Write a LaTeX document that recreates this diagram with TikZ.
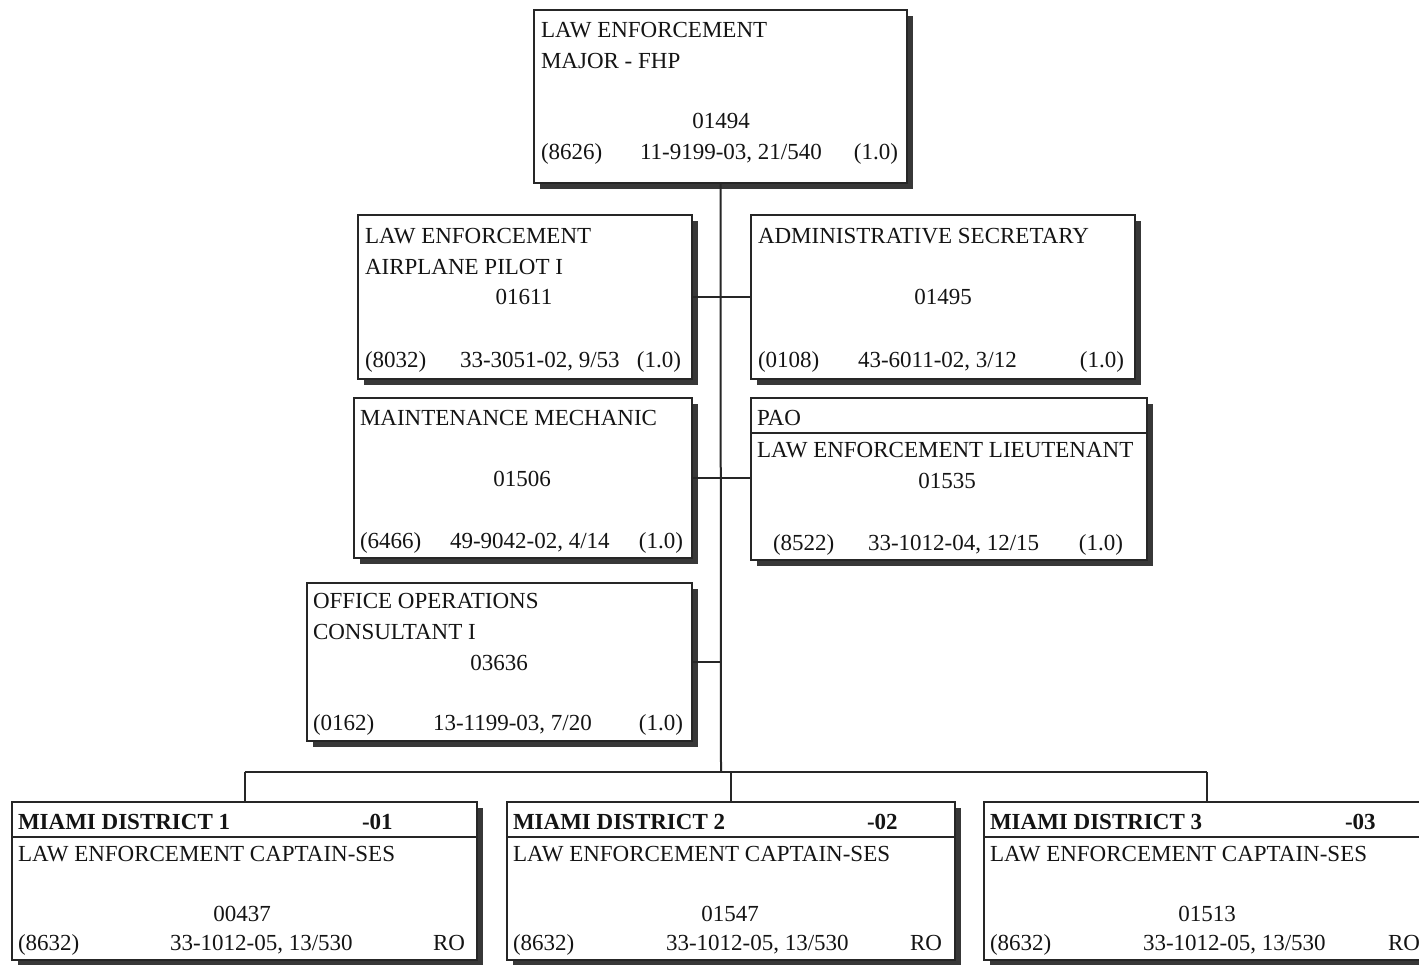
\documentclass[tikz,border=0pt]{standalone}
\usepackage{fontspec}
\setmainfont{Liberation Serif}
\usetikzlibrary{shadows}
\begin{document}
\begin{tikzpicture}[x=1pt,y=-1pt,
  box/.style={draw=black!85, line width=2.2pt, fill=white, rectangle, inner sep=0pt, outer sep=0pt,
    anchor=north west, drop shadow={shadow xshift=5.5pt, shadow yshift=-5.5pt, fill=black!78, opacity=1}},
  link/.style={draw=black!85, line width=2pt},
  rule/.style={draw=black!85, line width=1.8pt},
  txt/.style={inner sep=0pt, outer sep=0pt, font=\fontsize{23}{27}\selectfont, text=black!92},
  lt/.style={txt, anchor=base west},
  rt/.style={txt, anchor=base east},
  ct/.style={txt, anchor=base},
  hd/.style={txt, anchor=base west, font=\fontsize{23}{27}\selectfont\bfseries}]
\useasboundingbox (0,0) rectangle (1419,964);
\fill[white] (0,0) rectangle (1419,964);
\clip (0,0) rectangle (1419,964);

% position boxes
\node[box, minimum width=373pt, minimum height=173pt] (top)    at (534,10)  {};
\node[box, minimum width=334pt, minimum height=164pt] (pilot)  at (358,215) {};
\node[box, minimum width=384pt, minimum height=164pt] (admin)  at (751,215) {};
\node[box, minimum width=338pt, minimum height=160pt] (mech)   at (354,398) {};
\node[box, minimum width=396pt, minimum height=162pt] (pao)    at (751,398) {};
\node[box, minimum width=385pt, minimum height=158pt] (office) at (307,583) {};
\node[box, minimum width=465pt, minimum height=158pt] (dA)     at (12,802)  {};
\node[box, minimum width=448pt, minimum height=158pt] (dB)     at (507,802) {};
\node[box, minimum width=446pt, minimum height=158pt] (dC)     at (984,802) {};

% header rules
\draw[rule] (pao.north west) ++(0,35) -- ++(396,0);
\draw[rule] (dA.north west) ++(0,35) -- ++(465,0);
\draw[rule] (dB.north west) ++(0,35) -- ++(448,0);
\draw[rule] (dC.north west) ++(0,35) -- ++(446,0);

% connectors
\coordinate (bus) at (721,772);
\draw[link] (top.south) -- (bus);
\draw[link] (dA.north |- bus) -- (dC.north |- bus);
\draw[link] (dA.north |- bus) -- (dA.north);
\draw[link] (dB.north |- bus) -- (dB.north);
\draw[link] (dC.north |- bus) -- (dC.north);
\draw[link] (pilot.east) -- (admin.west);
\draw[link] (mech.east) -- (mech.east -| pao.west);
\draw[link] (office.east) -- (office.east -| top.south);

% top box
\node[lt] (t1) at (541,37) {LAW ENFORCEMENT};
\node[lt] (t2) at (541,68) {MAJOR - FHP};
\node[ct] (t3) at (721,128) {01494};
\node[lt] (t4) at (541,159) {(8626)};
\node[lt] (t5) at (640,159) {11-9199-03, 21/540};
\node[rt] (t6) at (898,159) {(1.0)};

% airplane pilot
\node[lt] (p1) at (365,243) {LAW ENFORCEMENT};
\node[lt] (p2) at (365,274) {AIRPLANE PILOT I};
\node[ct] (p3) at (524,304) {01611};
\node[lt] (p4) at (365,367) {(8032)};
\node[lt] (p5) at (460,367) {33-3051-02, 9/53};
\node[rt] (p6) at (681,367) {(1.0)};

% administrative secretary
\node[lt] (a1) at (758,243) {ADMINISTRATIVE SECRETARY};
\node[ct] (a2) at (943,304) {01495};
\node[lt] (a3) at (758,367) {(0108)};
\node[lt] (a4) at (858,367) {43-6011-02, 3/12};
\node[rt] (a5) at (1124,367) {(1.0)};

% maintenance mechanic
\node[lt] (m1) at (360,425) {MAINTENANCE MECHANIC};
\node[ct] (m2) at (522,486) {01506};
\node[lt] (m3) at (360,548) {(6466)};
\node[lt] (m4) at (450,548) {49-9042-02, 4/14};
\node[rt] (m5) at (683,548) {(1.0)};

% public affairs
\node[lt] (q1) at (757,425) {PAO};
\node[lt] (q2) at (757,457) {LAW ENFORCEMENT LIEUTENANT};
\node[ct] (q3) at (947,488) {01535};
\node[lt] (q4) at (773,550) {(8522)};
\node[lt] (q5) at (868,550) {33-1012-04, 12/15};
\node[rt] (q6) at (1123,550) {(1.0)};

% office operations
\node[lt] (o1) at (313,608) {OFFICE OPERATIONS};
\node[lt] (o2) at (313,639) {CONSULTANT I};
\node[ct] (o3) at (499,670) {03636};
\node[lt] (o4) at (313,730) {(0162)};
\node[lt] (o5) at (433,730) {13-1199-03, 7/20};
\node[rt] (o6) at (683,730) {(1.0)};

% districts
\node[hd] (x1) at (18,829) {MIAMI DISTRICT 1};
\node[hd] (x2) at (362,829) {-01};
\node[lt] (x3) at (18,861) {LAW ENFORCEMENT CAPTAIN-SES};
\node[ct] (x4) at (242,921) {00437};
\node[lt] (x5) at (18,950) {(8632)};
\node[lt] (x6) at (170,950) {33-1012-05, 13/530};
\node[rt] (x7) at (465,950) {RO};

\node[hd] (y1) at (513,829) {MIAMI DISTRICT 2};
\node[hd] (y2) at (867,829) {-02};
\node[lt] (y3) at (513,861) {LAW ENFORCEMENT CAPTAIN-SES};
\node[ct] (y4) at (730,921) {01547};
\node[lt] (y5) at (513,950) {(8632)};
\node[lt] (y6) at (666,950) {33-1012-05, 13/530};
\node[rt] (y7) at (942,950) {RO};

\node[hd] (z1) at (990,829) {MIAMI DISTRICT 3};
\node[hd] (z2) at (1345,829) {-03};
\node[lt] (z3) at (990,861) {LAW ENFORCEMENT CAPTAIN-SES};
\node[ct] (z4) at (1207,921) {01513};
\node[lt] (z5) at (990,950) {(8632)};
\node[lt] (z6) at (1143,950) {33-1012-05, 13/530};
\node[lt] (z7) at (1388,950) {RO};
\end{tikzpicture}
\end{document}
